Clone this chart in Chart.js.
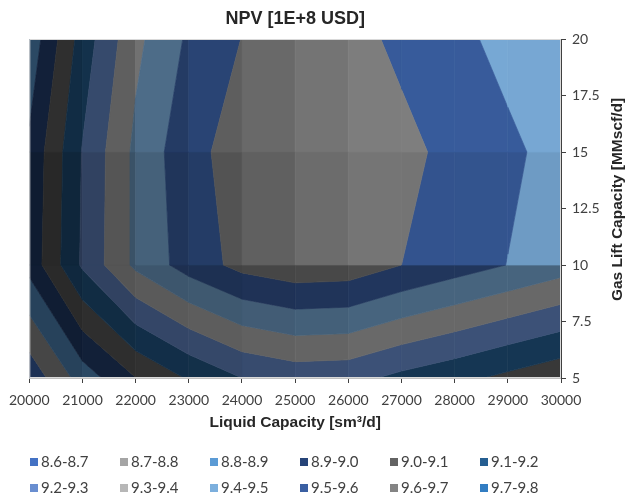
<!DOCTYPE html>
<html>
<head>
<meta charset="utf-8">
<script src="https://cdn.jsdelivr.net/npm/chart.js@4.4.1/dist/chart.umd.min.js"></script>
<style>
  html, body { margin: 0; padding: 0; background: #ffffff; }
  #wrap { width: 627px; height: 500px; }
</style>
</head>
<body>
<div id="wrap"><canvas id="npv" width="627" height="500"></canvas></div>
<script>
// Grid axes of the NPV surface
const liquidCapacity = [20000, 21000, 22000, 23000, 24000, 25000, 26000, 27000, 28000, 29000, 30000];
const gasLiftCapacity = [5, 10, 15, 20];

// NPV [1E+8 USD] along each gas lift capacity row
const npvAtGasLift5  = [8.631, 8.845, 8.998, 9.110, 9.200, 9.238, 9.231, 9.174, 9.128, 9.076, 9.026];
const npvAtGasLift10 = [8.933, 9.215, 9.422, 9.544, 9.630, 9.668, 9.660, 9.600, 9.548, 9.498, 9.446];
const npvAtGasLift15 = [8.920, 9.206, 9.423, 9.566, 9.647, 9.680, 9.670, 9.626, 9.573, 9.519, 9.466];
const npvAtGasLift20 = [8.832, 9.145, 9.375, 9.516, 9.602, 9.640, 9.633, 9.579, 9.525, 9.471, 9.417];

// Contour bands
const bandEdges  = [8.6, 8.7, 8.8, 8.9, 9.0, 9.1, 9.2, 9.3, 9.4, 9.5, 9.6, 9.7, 9.8];
const bandLabels = ['8.6-8.7', '8.7-8.8', '8.8-8.9', '8.9-9.0', '9.0-9.1', '9.1-9.2',
                    '9.2-9.3', '9.3-9.4', '9.4-9.5', '9.5-9.6', '9.6-9.7', '9.7-9.8'];
const bandColors = ['#4472C4', '#A5A5A5', '#5B9BD5', '#264478', '#636363', '#255E91',
                    '#698ED0', '#B7B7B7', '#7CAFDD', '#3A5FA2', '#848484', '#327DC2'];

// Axis ticks
const gasLiftTicks = [5, 7.5, 10, 12.5, 15, 17.5, 20];

const npvGrid = [npvAtGasLift5, npvAtGasLift10, npvAtGasLift15, npvAtGasLift20];

// ---- surface lighting -------------------------------------------------
// Each cell face is lit by one directional light; its normal comes from the
// cell's mean slope along the two axes.
const surfaceLight = { kx: 4.24, ky: 10.09, azimuth: 17.2, elevation: 19.2, ambient: 0.649, diffuse: 0.522 };

function cellSlope(k, r) {
  const a = npvGrid[r], b = npvGrid[r + 1];
  return {
    dx: ((a[k + 1] - a[k]) + (b[k + 1] - b[k])) / 2,
    dy: ((b[k] - a[k]) + (b[k + 1] - a[k + 1])) / 2
  };
}
function faceBrightness(dx, dy) {
  const L = surfaceLight;
  const az = L.azimuth * Math.PI / 180, el = L.elevation * Math.PI / 180;
  const nx = -L.kx * dx, ny = -L.ky * dy, nn = Math.hypot(nx, ny, 1);
  const dot = (nx * Math.cos(el) * Math.cos(az) + ny * Math.cos(el) * Math.sin(az) + Math.sin(el)) / nn;
  return L.ambient + L.diffuse * dot;
}

function hexToRgb(h) { return [parseInt(h.slice(1, 3), 16), parseInt(h.slice(3, 5), 16), parseInt(h.slice(5, 7), 16)]; }
function shadeColor(hex, f) {
  const c = hexToRgb(hex).map(v => Math.max(0, Math.min(255, Math.round(v * f))));
  return 'rgb(' + c.join(',') + ')';
}
// Keep the part of a polygon on one side of an NPV level (linear along edges)
function clipPoly(poly, level, keepAbove) {
  const out = [];
  for (let i = 0; i < poly.length; i++) {
    const a = poly[i], b = poly[(i + 1) % poly.length];
    const ina = keepAbove ? a.z >= level : a.z <= level;
    const inb = keepAbove ? b.z >= level : b.z <= level;
    if (ina) out.push(a);
    if (ina !== inb) {
      const t = (level - a.z) / (b.z - a.z);
      out.push({ x: a.x + t * (b.x - a.x), y: a.y + t * (b.y - a.y), z: level });
    }
  }
  return out;
}

// Filled contour bands, one grid cell at a time, placed through the chart scales
const contourPlugin = {
  id: 'contourBands',
  beforeDraw(chart) {
    const { ctx, chartArea: ca, scales: { x, y } } = chart;
    ctx.save();
    ctx.beginPath(); ctx.rect(ca.left, ca.top, ca.right - ca.left, ca.bottom - ca.top); ctx.clip();
    for (let r = 0; r < gasLiftCapacity.length - 1; r++) {
      for (let k = 0; k < liquidCapacity.length - 1; k++) {
        const lo = npvGrid[r], hi = npvGrid[r + 1];
        const quad = [
          { x: liquidCapacity[k], y: gasLiftCapacity[r], z: lo[k] },
          { x: liquidCapacity[k + 1], y: gasLiftCapacity[r], z: lo[k + 1] },
          { x: liquidCapacity[k + 1], y: gasLiftCapacity[r + 1], z: hi[k + 1] },
          { x: liquidCapacity[k], y: gasLiftCapacity[r + 1], z: hi[k] }
        ];
        const s = cellSlope(k, r);
        const f = faceBrightness(s.dx, s.dy);
        for (let b = 0; b < bandColors.length; b++) {
          let poly = clipPoly(quad, bandEdges[b], true);
          if (poly.length < 3) continue;
          poly = clipPoly(poly, bandEdges[b + 1], false);
          if (poly.length < 3) continue;
          const col = shadeColor(bandColors[b], f);
          ctx.beginPath();
          poly.forEach((p, i) => {
            const px = x.getPixelForValue(p.x), py = y.getPixelForValue(p.y);
            if (i === 0) ctx.moveTo(px, py); else ctx.lineTo(px, py);
          });
          ctx.closePath();
          ctx.fillStyle = col; ctx.strokeStyle = col; ctx.lineWidth = 0.7;
          ctx.fill(); ctx.stroke();
        }
      }
    }
    ctx.restore();
    ctx.save();
    ctx.strokeStyle = '#d9d9d9'; ctx.lineWidth = 1;
    ctx.strokeRect(ca.left + 0.5, ca.top + 0.5, ca.right - ca.left - 1, ca.bottom - ca.top - 1);
    ctx.restore();
  }
};

// Right-hand axis title reading upwards, and the band legend below the chart
const annotationPlugin = {
  id: 'npvAnnotations',
  afterDraw(chart) {
    const { ctx, chartArea: ca } = chart;
    ctx.save();
    ctx.fillStyle = '#262626';
    ctx.font = 'bold 15.5px "Liberation Sans", Arial, sans-serif';
    ctx.textAlign = 'center'; ctx.textBaseline = 'middle';
    ctx.translate(618, (ca.top + ca.bottom) / 2 - 9);
    ctx.rotate(-Math.PI / 2);
    ctx.fillText('Gas Lift Capacity [MMscf/d]', 0, 0);
    ctx.restore();

    ctx.save();
    ctx.font = '15px Lato, sans-serif';
    ctx.textBaseline = 'middle'; ctx.textAlign = 'left';
    bandLabels.forEach((label, i) => {
      const col = i % 6, row = Math.floor(i / 6);
      const bx = 30 + col * 90, by = 462 + row * 26;
      ctx.fillStyle = bandColors[i];
      ctx.fillRect(bx, by - 4, 8, 8);
      ctx.fillStyle = '#404040';
      ctx.fillText(label, bx + 11, by);
    });
    ctx.restore();
  }
};

const gridPoints = [];
gasLiftCapacity.forEach((g, r) => liquidCapacity.forEach((l, k) => gridPoints.push({ x: l, y: g, v: npvGrid[r][k] })));

new Chart(document.getElementById('npv'), {
  type: 'scatter',
  data: { datasets: [{ label: 'NPV', data: gridPoints, pointRadius: 0, pointHoverRadius: 0 }] },
  options: {
    responsive: false,
    animation: false,
    events: [],
    layout: { padding: { left: 28, right: 6, top: 0, bottom: 64 } },
    plugins: {
      legend: { display: false },
      tooltip: { enabled: false },
      title: {
        display: true, text: 'NPV [1E+8 USD]', fullSize: false, color: '#262626',
        font: { family: '"Liberation Sans", Arial, sans-serif', size: 18, weight: 'bold' }, padding: { top: 8, bottom: 9.4 }
      }
    },
    scales: {
      x: {
        type: 'linear', position: 'bottom', min: 20000, max: 30000,
        afterFit: s => { s.height = 58; },
        afterBuildTicks: s => { s.ticks = liquidCapacity.map(v => ({ value: v })); },
        ticks: { autoSkip: false, maxRotation: 0, padding: 9, color: '#404040',
                 font: { family: 'Lato', size: 14 }, callback: v => String(v) },
        grid: { drawOnChartArea: false, drawTicks: true, tickLength: 5, color: '#404040' },
        border: { display: true, color: '#bfbfbf' },
        title: { display: true, text: 'Liquid Capacity [sm³/d]', color: '#262626',
                 font: { family: 'Liberation Sans', size: 15.5, weight: 'bold' }, padding: { top: 0, bottom: 4 } }
      },
      y: {
        type: 'linear', position: 'right', min: 5, max: 20,
        afterFit: s => { s.width = 60; },
        afterBuildTicks: s => { s.ticks = gasLiftTicks.map(v => ({ value: v })); },
        ticks: { padding: 6, color: '#404040', font: { family: 'Lato', size: 14 } },
        grid: { drawOnChartArea: false, drawTicks: true, tickLength: 5, color: '#404040' },
        border: { display: true, color: '#404040' }
      }
    }
  },
  plugins: [contourPlugin, annotationPlugin]
});
</script>
</body>
</html>
